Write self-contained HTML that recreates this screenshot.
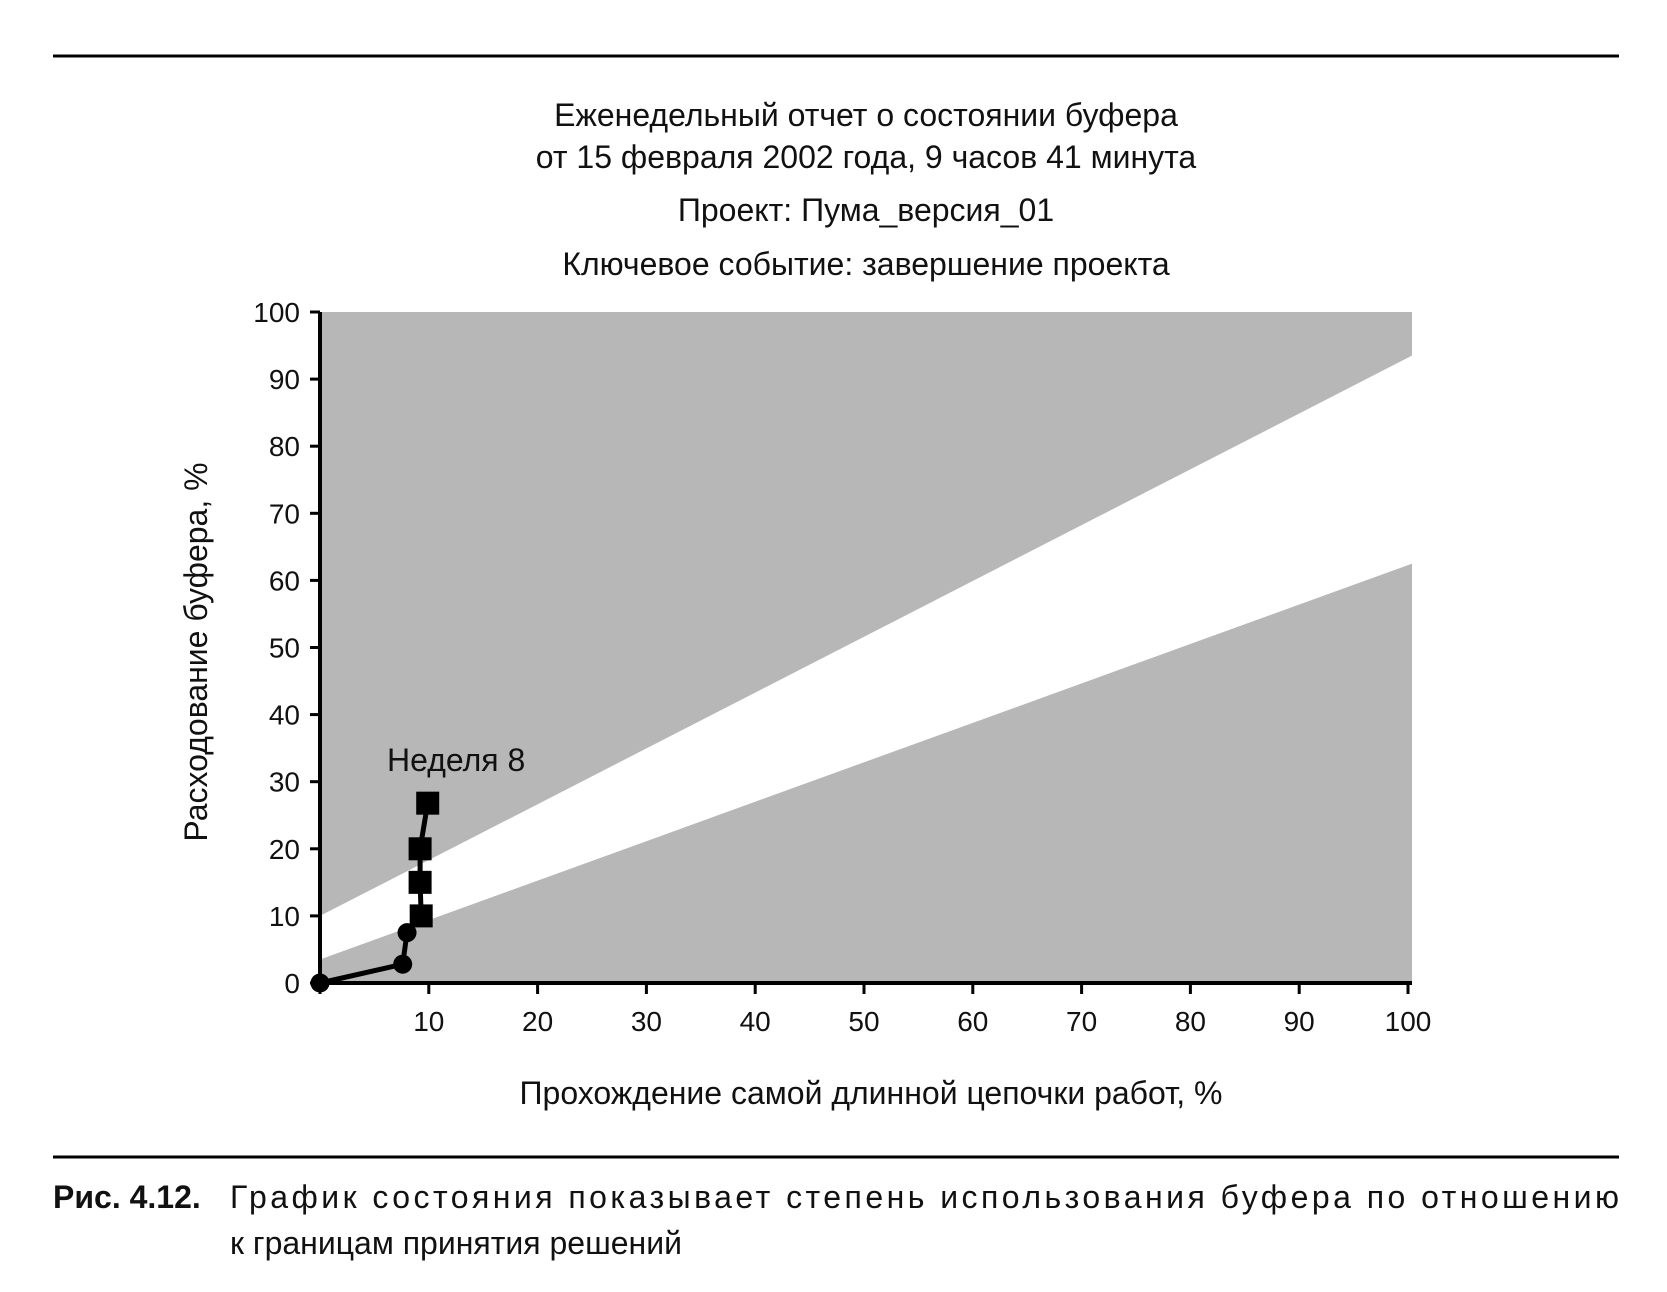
<!DOCTYPE html>
<html><head><meta charset="utf-8"><style>
body{margin:0;background:#fff;width:1667px;height:1292px;overflow:hidden;font-family:"Liberation Sans",sans-serif}
svg{display:block}
</style></head><body>
<svg width="1667" height="1292">
<line x1="53" y1="56" x2="1619" y2="56" stroke="#000" stroke-width="3"/>
<g font-size="32" text-anchor="middle" fill="#111">
<text x="866" y="126">Еженедельный отчет о состоянии буфера</text>
<text x="866" y="168">от 15 февраля 2002 года, 9 часов 41 минута</text>
<text x="866" y="221">Проект: Пума_версия_01</text>
<text x="866" y="275">Ключевое событие: завершение проекта</text>
</g>
<g id="plot"></g>
<text x="871" y="1104" font-size="32" text-anchor="middle" fill="#111">Прохождение самой длинной цепочки работ, %</text>
<text transform="translate(207,652) rotate(-90)" font-size="32" text-anchor="middle" fill="#111">Расходование буфера, %</text>
<line x1="53" y1="1157" x2="1619" y2="1157" stroke="#000" stroke-width="3"/>
<g font-size="32" fill="#111">
<text x="53" y="1208" font-weight="bold">Рис. 4.12.</text>
<text x="230" y="1208" textLength="1389" lengthAdjust="spacing">График состояния показывает степень использования буфера по отношению</text>
<text x="230" y="1254">к границам принятия решений</text>
</g>
</svg>
<script>
const xTicks=[10,20,30,40,50,60,70,80,90,100];
const yTicks=[0,10,20,30,40,50,60,70,80,90,100];
const upperBoundary=[10,93.5];   // at x=0 and x=100
const lowerBoundary=[3.5,62.5];
const circleX=[0,7.6,8.0];
const circleY=[0,2.8,7.5];
const squareX=[9.3,9.2,9.2,9.9];
const squareY=[10,15,20,26.8];
const X=v=>320+v*10.88, Y=v=>983-v*6.71;
const NS='http://www.w3.org/2000/svg';
const g=document.getElementById('plot');
function mk(t,a){const e=document.createElementNS(NS,t);for(const k in a)e.setAttribute(k,a[k]);g.appendChild(e);return e;}
let e;
e=mk('rect',{x:X(0),y:Y(100),width:X(100)-X(0)+4,height:Y(0)-Y(100),fill:'#b7b7b7'});


e=mk('polygon',{points:`${X(0)},${Y(upperBoundary[0])} ${X(100)+4},${Y(upperBoundary[1])} ${X(100)+4},${Y(lowerBoundary[1])} ${X(0)},${Y(lowerBoundary[0])}`,fill:'#fff'});


e=mk('line',{x1:X(0),y1:Y(100),x2:X(0),y2:Y(0)+2,stroke:'#000','stroke-width':4});


e=mk('line',{x1:X(0)-2,y1:Y(0),x2:X(100)+4,y2:Y(0),stroke:'#000','stroke-width':4});


yTicks.forEach(v=>{
 e=mk('line',{x1:X(0)-10,y1:Y(v),x2:X(0),y2:Y(v),stroke:'#000','stroke-width':3});
 
 
 e=mk('text',{x:X(0)-20,y:Y(v)+10,'font-size':28,'text-anchor':'end',fill:'#111'});e.textContent=v;
 
 
});
[0].concat(xTicks).forEach(v=>{
 e=mk('line',{x1:X(v),y1:Y(0),x2:X(v),y2:Y(0)+11,stroke:'#000','stroke-width':3});
 
 
});
xTicks.forEach(v=>{
 e=mk('text',{x:X(v),y:Y(0)+48,'font-size':28,'text-anchor':'middle',fill:'#111'});e.textContent=v;
 
 
});
const px=circleX.concat(squareX), py=circleY.concat(squareY);
e=mk('polyline',{points:px.map((v,i)=>X(v)+','+Y(py[i])).join(' '),fill:'none',stroke:'#000','stroke-width':5});


circleX.forEach((v,i)=>{
 e=mk('circle',{cx:X(v),cy:Y(circleY[i]),r:9.5,fill:'#000'});
 
 
});
squareX.forEach((v,i)=>{
 e=mk('rect',{x:X(v)-11.5,y:Y(squareY[i])-11.5,width:23,height:23,fill:'#000'});
 
 
});
e=mk('text',{x:387,y:771,'font-size':32,fill:'#111'});e.textContent='Неделя 8';


</script>
</body></html>
